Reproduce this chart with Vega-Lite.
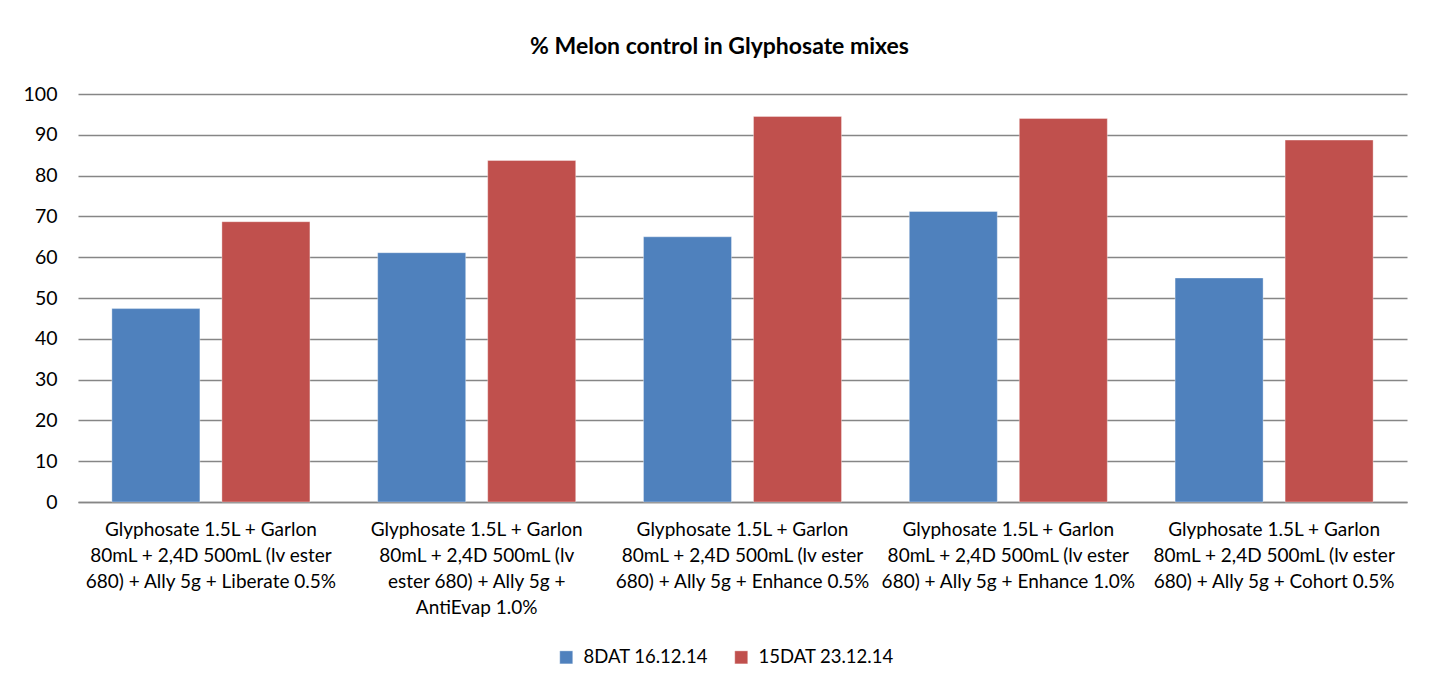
{
  "$schema": "https://vega.github.io/schema/vega-lite/v6.json",
  "width": 1329,
  "height": 408,
  "autosize": {"type": "none"},
  "padding": {"left": 78, "top": 94, "right": 34, "bottom": 186},
  "background": "white",
  "title": {
    "text": "% Melon control in Glyphosate mixes",
    "font": "Lato",
    "fontSize": 23,
    "fontWeight": "bold",
    "color": "#000000",
    "anchor": "middle",
    "dx": -23,
    "offset": 25
  },
  "data": {
    "values": [
      {"treatment": "Glyphosate 1.5L + Garlon|80mL + 2,4D 500mL (lv ester|680) + Ally 5g + Liberate 0.5%", "series": "8DAT 16.12.14", "value": 47.4},
      {"treatment": "Glyphosate 1.5L + Garlon|80mL + 2,4D 500mL (lv ester|680) + Ally 5g + Liberate 0.5%", "series": "15DAT 23.12.14", "value": 68.7},
      {"treatment": "Glyphosate 1.5L + Garlon|80mL + 2,4D 500mL (lv|ester 680) + Ally 5g +|AntiEvap 1.0%", "series": "8DAT 16.12.14", "value": 61.1},
      {"treatment": "Glyphosate 1.5L + Garlon|80mL + 2,4D 500mL (lv|ester 680) + Ally 5g +|AntiEvap 1.0%", "series": "15DAT 23.12.14", "value": 83.7},
      {"treatment": "Glyphosate 1.5L + Garlon|80mL + 2,4D 500mL (lv ester|680) + Ally 5g + Enhance 0.5%", "series": "8DAT 16.12.14", "value": 65.0},
      {"treatment": "Glyphosate 1.5L + Garlon|80mL + 2,4D 500mL (lv ester|680) + Ally 5g + Enhance 0.5%", "series": "15DAT 23.12.14", "value": 94.5},
      {"treatment": "Glyphosate 1.5L + Garlon|80mL + 2,4D 500mL (lv ester|680) + Ally 5g + Enhance 1.0%", "series": "8DAT 16.12.14", "value": 71.2},
      {"treatment": "Glyphosate 1.5L + Garlon|80mL + 2,4D 500mL (lv ester|680) + Ally 5g + Enhance 1.0%", "series": "15DAT 23.12.14", "value": 94.0},
      {"treatment": "Glyphosate 1.5L + Garlon|80mL + 2,4D 500mL (lv ester|680) + Ally 5g + Cohort 0.5%", "series": "8DAT 16.12.14", "value": 54.9},
      {"treatment": "Glyphosate 1.5L + Garlon|80mL + 2,4D 500mL (lv ester|680) + Ally 5g + Cohort 0.5%", "series": "15DAT 23.12.14", "value": 88.7}
    ]
  },
  "mark": {"type": "bar"},
  "encoding": {
    "x": {
      "field": "treatment",
      "type": "nominal",
      "sort": null,
      "scale": {"paddingInner": 0, "paddingOuter": 0},
      "axis": {
        "title": null,
        "labelAngle": 0,
        "labelExpr": "split(datum.label, '|')",
        "labelFont": "Lato",
        "labelFontSize": 19,
        "labelColor": "#000000",
        "labelLineHeight": 26,
        "labelPadding": 18,
        "labelLimit": 300,
        "ticks": false,
        "domainColor": "#868686",
        "domainWidth": 1.3
      }
    },
    "xOffset": {
      "field": "series",
      "type": "nominal",
      "sort": ["8DAT 16.12.14", "15DAT 23.12.14"],
      "scale": {"paddingInner": 0.2, "paddingOuter": 0.308}
    },
    "y": {
      "field": "value",
      "type": "quantitative",
      "scale": {"domain": [0, 100]},
      "axis": {
        "title": null,
        "values": [0, 10, 20, 30, 40, 50, 60, 70, 80, 90, 100],
        "labelFont": "Lato",
        "labelFontSize": 19.5,
        "labelColor": "#000000",
        "labelPadding": 21,
        "ticks": false,
        "domain": false,
        "grid": true,
        "gridColor": "#868686",
        "gridWidth": 1.3
      }
    },
    "color": {
      "field": "series",
      "type": "nominal",
      "sort": ["8DAT 16.12.14", "15DAT 23.12.14"],
      "scale": {"domain": ["8DAT 16.12.14", "15DAT 23.12.14"], "range": ["#4F81BD", "#C0504D"]},
      "legend": {
        "title": null,
        "orient": "none",
        "legendX": 479,
        "legendY": 554,
        "padding": 0,
        "direction": "horizontal",
        "symbolType": "square",
        "symbolSize": 169,
        "symbolStrokeWidth": 0,
        "labelOffset": 8,
        "labelFont": "Lato",
        "labelFontSize": 18.5,
        "labelColor": "#000000",
        "columnPadding": 24
      }
    }
  },
  "config": {
    "view": {"stroke": null},
    "bar": {"stroke": "#ffffff", "strokeOpacity": 0.35, "strokeWidth": 1}
  }
}
